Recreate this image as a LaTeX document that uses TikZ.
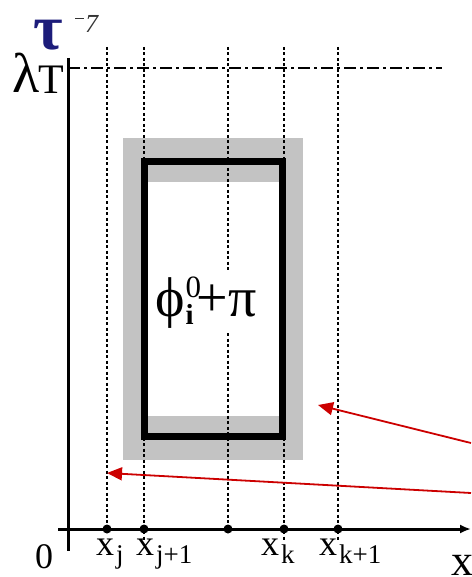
\documentclass[tikz,border=0pt]{standalone}
\usepackage{fontspec}
\setmainfont{Liberation Serif}
\usetikzlibrary{positioning, arrows.meta}
\definecolor{bandgray}{HTML}{C3C3C3}
\definecolor{arrowred}{HTML}{CC0000}
\definecolor{taublue}{HTML}{1C1C7A}
\newcommand{\fs}[1]{\fontsize{#1}{#1}\selectfont}
\newcommand{\xsub}[1]{x\kern2pt\raisebox{-8pt}{\fs{27}#1}}

\begin{document}
\begin{tikzpicture}[x=1pt, y=-1pt,
    gridline/.style={line width=1.8pt, dash pattern=on 3pt off 2.5pt},
    topline/.style={line width=1.5pt, dash pattern=on 12pt off 4pt on 3pt off 4pt},
    axisline/.style={line width=3pt},
    tickdot/.style={circle, fill=black, inner sep=0pt, minimum size=9pt},
    xlabel/.style={font=\fs{36}, anchor=base west, inner sep=0pt},
    pointer/.style={arrowred, line width=1.8pt, -{Triangle[length=15pt, width=13pt]}}]
  \useasboundingbox (0,0) rectangle (471,577);

  % grey band round the cell
  \fill[bandgray] (123,138) rectangle (303,460);
  \fill[white] (148,182) rectangle (280,416);
  \draw[line width=6.5pt] (144.7,161.5) rectangle (282.7,436.7);

  % dots on the x axis
  \node[tickdot] (dj)  at (107,529) {};
  \node[tickdot] (dj1) at (144,529) {};
  \node[tickdot] (dm)  at (228,529) {};
  \node[tickdot] (dk)  at (284,529) {};
  \node[tickdot] (dk1) at (338,529) {};

  % vertical grid lines
  \foreach \d in {dj, dm}
    \draw[gridline] (\d |- 0,47) -- (\d.center);
  \foreach \d in {dj1, dk, dk1}
    \draw[gridline] (\d |- 0,47) -- (\d |- 0,541);

  % level lambda_T
  \coordinate (lt) at (68,68);
  \draw[topline] (lt) -- (442,68);

  % cell label
  \node[fill=white, inner xsep=1pt, inner ysep=4pt, font=\fs{56}, anchor=base west] (phi) at (154,316)
    {ϕ\kern1pt\rlap{\raisebox{19pt}{\fs{31}0}}\raisebox{-8pt}{\fs{29}\bfseries i}\kern3pt+π};

  % axes
  \coordinate (o) at (68,529);
  \draw[axisline] (68,58) -- (68,551);
  \draw[axisline, -{Latex[length=11pt, width=9pt]}] (58,529) -- (471,529);

  % axis texts
  \node[inner sep=0pt, font=\fs{64}\bfseries, text=taublue, anchor=base west] (tau) at (33,50) {τ};
  \node[inner sep=0pt, font=\fs{26}, text=black!80, anchor=base west] (exp) at (75,33)
    {\raisebox{14pt}{\rule{9pt}{1.3pt}}\kern1pt\textit{7}};
  \node[inner sep=0pt, anchor=base west] (lam) at (12,93) {\fs{56}λ\kern-1pt\raisebox{-1pt}{\fs{42}T}};
  \node[inner sep=0pt, font=\fs{36}, anchor=base west] (zero) at (35,568) {0};
  \node[inner sep=0pt, font=\fs{44}, anchor=base west] (xax) at (451,575) {x};

  \node[xlabel] (xj)  at (96,555)  {\xsub{j}};
  \node[xlabel] (xj1) at (136,555) {\xsub{j+1}};
  \node[xlabel] (xk)  at (261,555) {\xsub{k}};
  \node[xlabel] (xk1) at (319,555) {\xsub{k+1}};

  % red pointers
  \coordinate (p1) at (471,443);
  \coordinate (p2) at (471,493);
  \coordinate (t1) at (318,405);
  \coordinate (t2) at (107,473);
  \draw[pointer] (p1) -- (t1);
  \draw[pointer] (p2) -- (t2);
\end{tikzpicture}
\end{document}
